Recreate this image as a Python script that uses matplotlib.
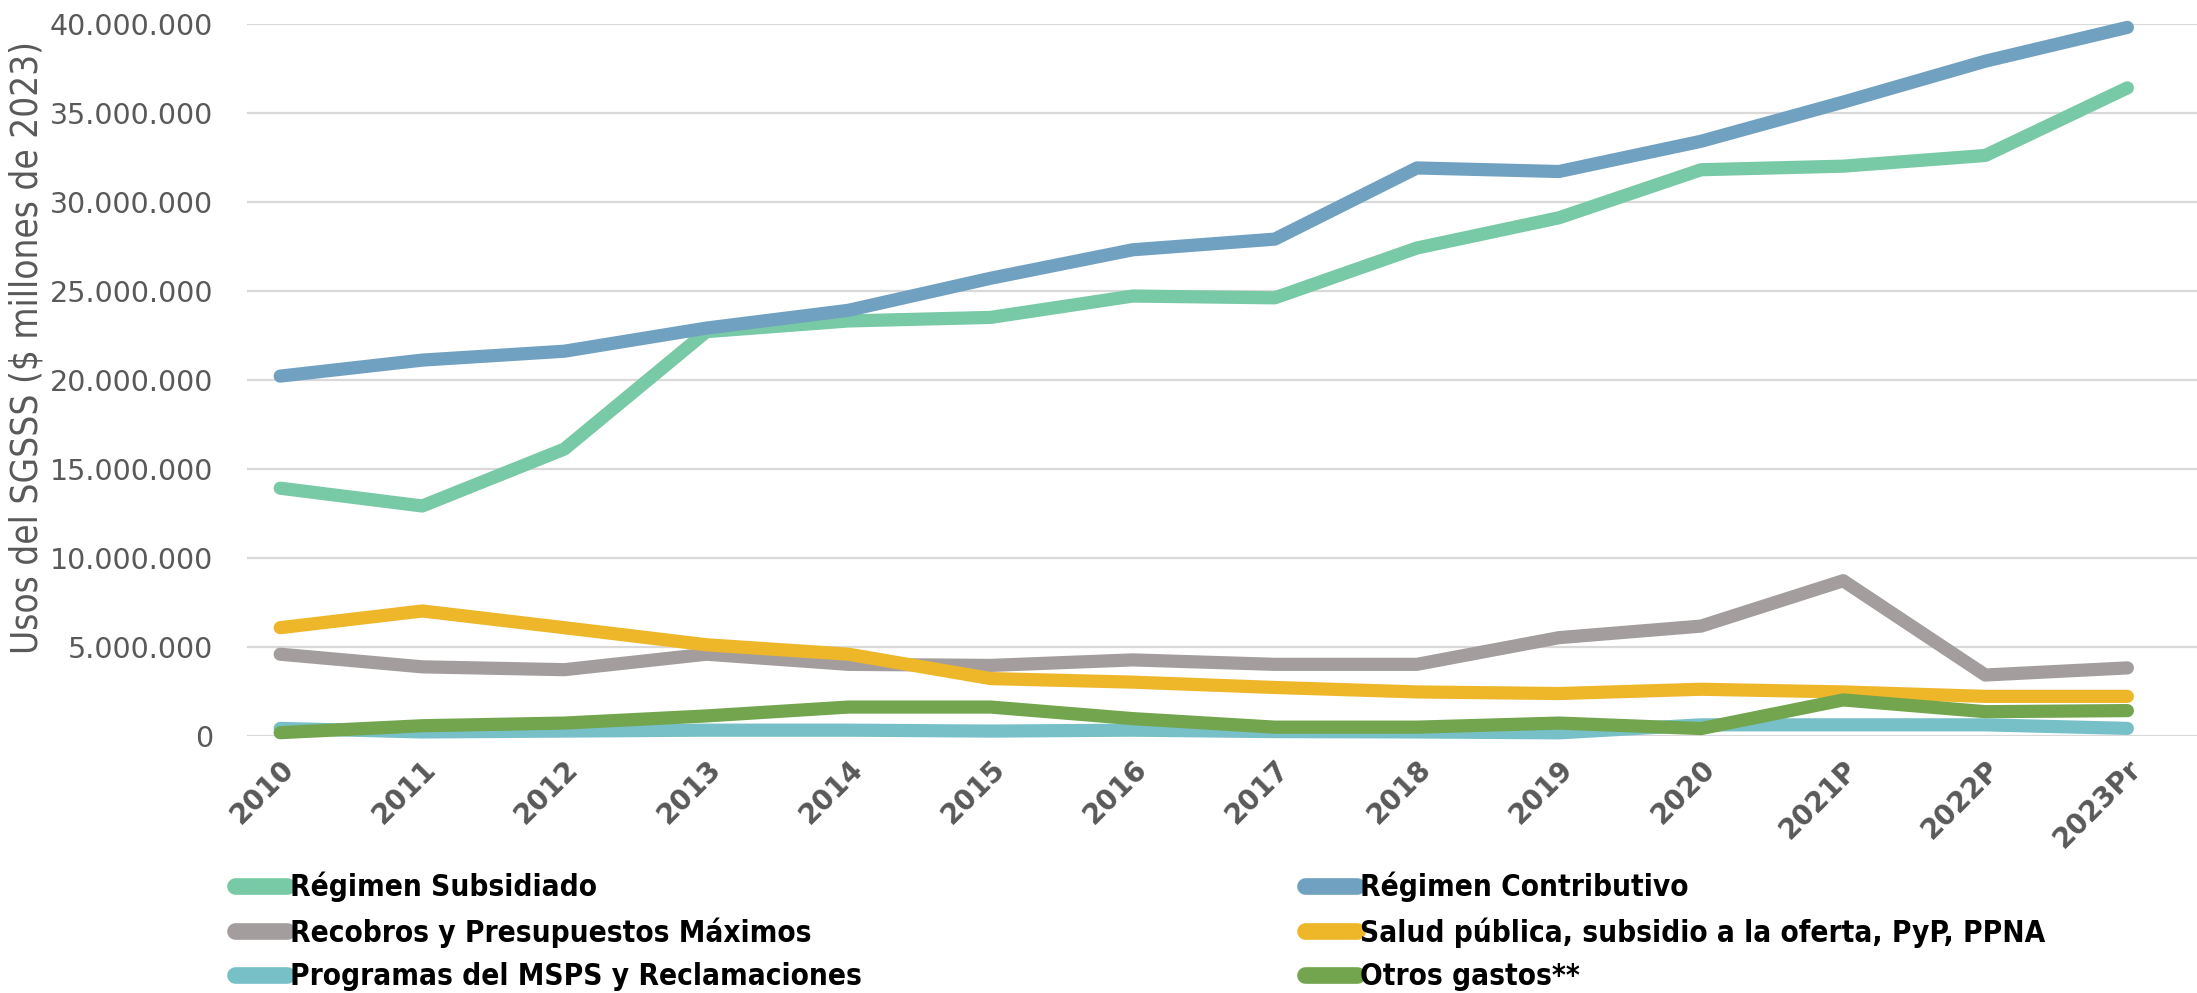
import matplotlib
matplotlib.use("Agg")
import matplotlib.pyplot as plt
from matplotlib.ticker import FuncFormatter
from matplotlib.lines import Line2D

# Usos del SGSSS por concepto, 2010-2023 ($ millones de 2023)
years = ["2010", "2011", "2012", "2013", "2014", "2015", "2016", "2017",
         "2018", "2019", "2020", "2021P", "2022P", "2023Pr"]

subsidiado = [13.9, 12.9, 16.1, 22.7, 23.3, 23.5, 24.7, 24.6, 27.4, 29.1, 31.8, 32.0, 32.6, 36.4]
contributivo = [20.2, 21.1, 21.6, 22.9, 23.9, 25.7, 27.3, 27.9, 31.9, 31.7, 33.4, 35.6, 37.9, 39.8]
recobros = [4.57, 3.86, 3.70, 4.57, 4.00, 3.94, 4.25, 4.00, 4.00, 5.50, 6.15, 8.70, 3.40, 3.80]
salud_publica = [6.06, 7.00, 6.06, 5.10, 4.57, 3.20, 3.00, 2.70, 2.45, 2.36, 2.60, 2.45, 2.20, 2.20]
programas = [0.40, 0.20, 0.25, 0.30, 0.30, 0.25, 0.30, 0.22, 0.20, 0.15, 0.60, 0.60, 0.60, 0.40]
otros = [0.16, 0.55, 0.70, 1.10, 1.60, 1.60, 0.95, 0.47, 0.47, 0.70, 0.39, 2.00, 1.34, 1.40]

series = [
    ("Régimen Subsidiado", subsidiado, "#78C9A6"),
    ("Régimen Contributivo", contributivo, "#71A1C0"),
    ("Recobros y Presupuestos Máximos", recobros, "#A39E9D"),
    ("Salud pública, subsidio a la oferta, PyP, PPNA", salud_publica, "#EEB72A"),
    ("Programas del MSPS y Reclamaciones", programas, "#78C0C8"),
    ("Otros gastos**", otros, "#72A54D"),
]

fig = plt.figure(figsize=(21.97, 9.93), dpi=100)
ax = fig.add_axes([0.1122, 0.2593, 0.8878, 0.7167])

x = list(range(len(years)))
for name, vals, color in series:
    ax.plot(x, [v * 1e6 for v in vals], color=color, lw=9.5,
            solid_capstyle="round", solid_joinstyle="round",
            clip_on=False, label=name, zorder=3)

ax.set_ylim(0, 40e6)
ax.set_xlim(-0.237, 13.49)
ax.set_yticks([i * 5e6 for i in range(9)])
ax.yaxis.set_major_formatter(FuncFormatter(lambda v, p: f"{int(v):,}".replace(",", ".")))
ax.grid(axis="y", color="#D9D9D9", lw=1.6, zorder=0)
ax.set_axisbelow(True)
for s in ax.spines.values():
    s.set_visible(False)
ax.tick_params(length=0)
ax.tick_params(axis="y", labelsize=20.5, labelcolor="#595959", pad=24)

ax.set_xticks(x)
ax.set_xticklabels(years, rotation=45, ha="right", rotation_mode="anchor",
                   fontsize=20, fontweight="bold", color="#595959")
ax.tick_params(axis="x", pad=14)

fig.text(0.0125, 0.65, "Usos del SGSSS ($ millones de 2023)", rotation=90,
         ha="center", va="center", fontsize=26.5, color="#595959",
         fontstretch="condensed")

# legend split in two columns
handles = [Line2D([], [], color=c, lw=12, solid_capstyle="round") for _, _, c in series]
names = [n for n, _, _ in series]
legend_kw = dict(frameon=False, handlelength=1.75, handletextpad=0.12,
                 labelspacing=0.5, borderpad=0, borderaxespad=0,
                 prop={"weight": "bold", "stretch": "condensed", "size": 21.3})
fig.legend([handles[0], handles[2], handles[4]], [names[0], names[2], names[4]],
           loc="upper left", bbox_to_anchor=(0.107, 0.122), **legend_kw)
fig.legend([handles[1], handles[3], handles[5]], [names[1], names[3], names[5]],
           loc="upper left", bbox_to_anchor=(0.594, 0.122), **legend_kw)

fig.savefig("out.png", dpi=100)
